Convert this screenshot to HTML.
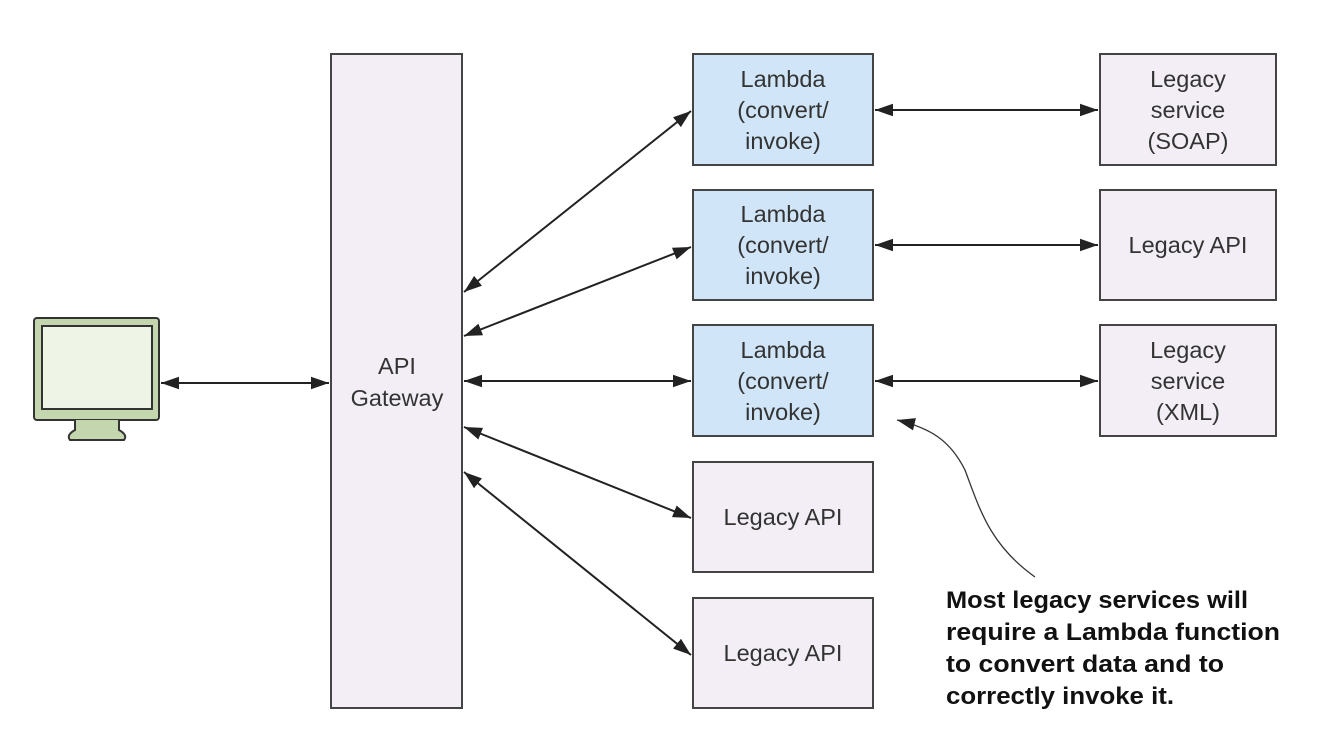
<!DOCTYPE html>
<html><head><meta charset="utf-8"><style>
html,body{margin:0;padding:0;background:#fff;width:1334px;height:748px;overflow:hidden}
</style></head><body>
<svg width="1334" height="748" viewBox="0 0 1334 748" xmlns="http://www.w3.org/2000/svg" font-family="Liberation Sans, Arial, sans-serif">
<defs>
<marker id="a" viewBox="0 0 10 10" refX="10" refY="5" markerWidth="18" markerHeight="18" markerUnits="userSpaceOnUse" orient="auto-start-reverse">
<path d="M0,1.5 L10,5 L0,8.5 z" fill="#222"/></marker>
</defs>
<g stroke="#444" stroke-width="2">
<rect x="331" y="54" width="131" height="654" fill="#f3eef6"/>
<rect x="693" y="54" width="180" height="111" fill="#d0e5f7"/>
<rect x="693" y="190" width="180" height="110" fill="#d0e5f7"/>
<rect x="693" y="325" width="180" height="111" fill="#d0e5f7"/>
<rect x="693" y="462" width="180" height="110" fill="#f3eef6"/>
<rect x="693" y="598" width="180" height="110" fill="#f3eef6"/>
<rect x="1100" y="54" width="176" height="111" fill="#f3eef6"/>
<rect x="1100" y="190" width="176" height="110" fill="#f3eef6"/>
<rect x="1100" y="325" width="176" height="111" fill="#f3eef6"/>
</g>
<g stroke="#333" stroke-width="2">
<rect x="34" y="318" width="125" height="102" rx="3" fill="#c4d6ae"/>
<rect x="42" y="326" width="110" height="83" fill="#eff5e6"/>
<path d="M75,420 L75,430 Q66,435 70,440 L124,440 Q128,435 119,430 L119,420" fill="#c4d6ae"/>
</g>
<g stroke="#222" stroke-width="2" fill="none" marker-start="url(#a)" marker-end="url(#a)">
<line x1="161" y1="383" x2="329" y2="383"/>
<line x1="464" y1="292" x2="691" y2="111"/>
<line x1="464" y1="336" x2="691" y2="247"/>
<line x1="464" y1="381" x2="691" y2="381"/>
<line x1="464" y1="427" x2="691" y2="518"/>
<line x1="464" y1="472" x2="691" y2="655"/>
<line x1="875" y1="110" x2="1098" y2="110"/>
<line x1="875" y1="245" x2="1098" y2="245"/>
<line x1="875" y1="381" x2="1098" y2="381"/>
</g>
<path d="M1035,577 C990,545 980,510 965,470 C950,440 930,428 897,420" stroke="#333" stroke-width="1.3" fill="none" marker-end="url(#a)"/>
<g font-size="23.5" fill="#333" text-anchor="middle">
<text x="397" y="374">API</text><text x="397" y="406">Gateway</text>
<text x="783" y="87">Lambda</text><text x="783" y="118">(convert/</text><text x="783" y="149">invoke)</text>
<text x="783" y="222">Lambda</text><text x="783" y="253">(convert/</text><text x="783" y="284">invoke)</text>
<text x="783" y="358">Lambda</text><text x="783" y="389">(convert/</text><text x="783" y="420">invoke)</text>
<text x="783" y="525">Legacy API</text>
<text x="783" y="661">Legacy API</text>
<text x="1188" y="87">Legacy</text><text x="1188" y="118">service</text><text x="1188" y="149">(SOAP)</text>
<text x="1188" y="253">Legacy API</text>
<text x="1188" y="358">Legacy</text><text x="1188" y="389">service</text><text x="1188" y="420">(XML)</text>
</g>
<g font-size="24" font-weight="bold" fill="#111">
<text x="946" y="608" textLength="302" lengthAdjust="spacingAndGlyphs">Most legacy services will</text>
<text x="946" y="640" textLength="334" lengthAdjust="spacingAndGlyphs">require a Lambda function</text>
<text x="946" y="672" textLength="278" lengthAdjust="spacingAndGlyphs">to convert data and to</text>
<text x="946" y="704" textLength="228" lengthAdjust="spacingAndGlyphs">correctly invoke it.</text>
</g>
</svg>
</body></html>
